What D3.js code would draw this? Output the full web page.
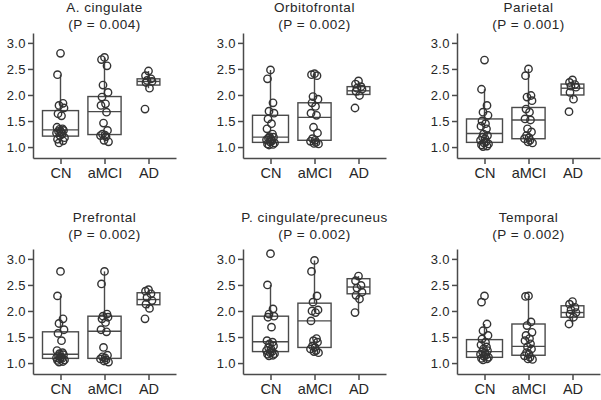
<!DOCTYPE html>
<html><head><meta charset="utf-8">
<script src="https://cdn.jsdelivr.net/npm/d3@7"></script>
<style>body{margin:0;background:#fff}svg{display:block}</style>
</head><body><svg id="c" width="601" height="400"></svg>
<script>
const categories = ["CN", "aMCI", "AD"];
const regions = ["A. cingulate", "Orbitofrontal", "Parietal", "Prefrontal", "P. cingulate/precuneus", "Temporal"];
const pLabels = ["(P = 0.004)", "(P = 0.002)", "(P = 0.001)", "(P = 0.002)", "(P = 0.002)", "(P = 0.002)"];
const yTicks = [1.0, 1.5, 2.0, 2.5, 3.0];

// individual values per region
const cnValues = [
  [2.80, 2.39, 1.84, 1.80, 1.75, 1.64, 1.60, 1.38, 1.35, 1.34, 1.32, 1.30, 1.29, 1.27, 1.25, 1.22, 1.18, 1.15, 1.12, 1.08],
  [2.48, 2.31, 1.85, 1.69, 1.65, 1.54, 1.45, 1.35, 1.25, 1.20, 1.19, 1.17, 1.15, 1.14, 1.12, 1.10, 1.08, 1.06, 1.05, 1.04],
  [2.67, 2.11, 1.80, 1.67, 1.61, 1.50, 1.45, 1.40, 1.35, 1.25, 1.22, 1.19, 1.16, 1.13, 1.10, 1.08, 1.06, 1.04, 1.02, 1.01],
  [2.76, 2.29, 1.85, 1.76, 1.64, 1.57, 1.43, 1.24, 1.20, 1.18, 1.16, 1.14, 1.12, 1.10, 1.09, 1.08, 1.06, 1.05, 1.03, 1.02],
  [3.10, 2.50, 2.04, 1.94, 1.90, 1.88, 1.69, 1.43, 1.40, 1.37, 1.33, 1.30, 1.27, 1.24, 1.22, 1.20, 1.18, 1.17, 1.15, 1.14],
  [2.29, 2.17, 1.75, 1.62, 1.53, 1.46, 1.40, 1.35, 1.31, 1.27, 1.24, 1.22, 1.20, 1.17, 1.15, 1.13, 1.11, 1.09, 1.08, 1.06]
];
const amciValues = [
  [2.72, 2.68, 2.56, 2.19, 2.05, 1.96, 1.83, 1.80, 1.67, 1.46, 1.32, 1.25, 1.23, 1.22, 1.20, 1.13, 1.10],
  [2.41, 2.39, 2.37, 1.97, 1.92, 1.85, 1.78, 1.65, 1.61, 1.38, 1.27, 1.16, 1.13, 1.11, 1.09, 1.07, 1.06],
  [2.50, 2.37, 1.99, 1.96, 1.89, 1.73, 1.67, 1.54, 1.52, 1.35, 1.29, 1.22, 1.18, 1.16, 1.13, 1.10, 1.08],
  [2.76, 2.52, 1.94, 1.90, 1.88, 1.85, 1.78, 1.64, 1.60, 1.30, 1.15, 1.12, 1.10, 1.08, 1.06, 1.04, 1.02],
  [2.97, 2.76, 2.29, 2.17, 2.02, 2.00, 1.97, 1.81, 1.47, 1.43, 1.40, 1.33, 1.30, 1.27, 1.24, 1.22, 1.20],
  [2.29, 2.28, 1.79, 1.72, 1.59, 1.53, 1.47, 1.43, 1.37, 1.31, 1.27, 1.20, 1.17, 1.14, 1.11, 1.08, 1.07]
];
const adValues = [
  [2.46, 2.37, 2.31, 2.28, 2.26, 2.24, 2.13, 1.73],
  [2.27, 2.21, 2.16, 2.13, 2.11, 2.07, 1.99, 1.75],
  [2.29, 2.24, 2.20, 2.17, 2.15, 2.05, 1.92, 1.68],
  [2.41, 2.38, 2.33, 2.26, 2.20, 2.13, 2.05, 1.85],
  [2.67, 2.58, 2.49, 2.44, 2.36, 2.30, 2.23, 1.97],
  [2.18, 2.13, 2.07, 2.02, 1.97, 1.94, 1.88, 1.75]
];
// box statistics: [lower whisker, Q1, median, Q3, upper whisker]
const cnBox = [
  [1.08, 1.21, 1.33, 1.70, 2.39],
  [1.04, 1.09, 1.19, 1.61, 2.48],
  [1.01, 1.09, 1.26, 1.54, 2.11],
  [1.02, 1.09, 1.17, 1.60, 2.29],
  [1.14, 1.22, 1.41, 1.90, 2.50],
  [1.06, 1.11, 1.22, 1.45, 1.75]
];
const amciBox = [
  [1.10, 1.24, 1.68, 1.97, 2.72],
  [1.06, 1.13, 1.57, 1.85, 2.41],
  [1.08, 1.16, 1.52, 1.76, 2.50],
  [1.02, 1.09, 1.61, 1.90, 2.76],
  [1.20, 1.30, 1.81, 2.15, 2.97],
  [1.07, 1.15, 1.32, 1.75, 2.29]
];
const adBox = [
  [2.13, 2.19, 2.26, 2.31, 2.46],
  [1.99, 2.01, 2.08, 2.16, 2.27],
  [1.92, 2.00, 2.13, 2.21, 2.29],
  [2.05, 2.12, 2.22, 2.35, 2.41],
  [1.97, 2.33, 2.46, 2.62, 2.67],
  [1.75, 1.88, 1.97, 2.10, 2.18]
];

const svg = d3.select("#c");
const FONT = "'Liberation Sans', Arial, sans-serif";
const TXT = "#262626";
const LINE = "#4a4a4a";
const colX = [33, 243, 457];
const rowTop = [33, 249];
const titleY = [[12, 29], [222, 239]];
const plotW = 143, plotH = 125;
const widthScale = d3.scaleSqrt().domain([0, 20]).range([0, 36]);
const jitter = [0, -3, 2.5, -1.5, 3.5, -2.5, 1, -3.5, 2, -1, 3, -2, 0.5, -4, 1.5, -0.5, 4, -3, 2.5, -1.5];

regions.forEach((name, k) => {
  const r = Math.floor(k / 3), c = k % 3;
  const x0 = colX[c], top = rowTop[r], bottom = top + plotH;
  const y = d3.scaleLinear().domain([0.79, 3.19]).range([bottom, top]);
  const x = d3.scalePoint().domain(categories).range([x0, x0 + plotW]).padding(0.625);
  const g = svg.append("g");

  // titles
  const cx = x("aMCI");
  g.append("text").attr("x", cx).attr("y", titleY[r][0]).attr("text-anchor", "middle")
    .attr("font-family", FONT).attr("font-size", 13.5).attr("letter-spacing", "0.5px").attr("fill", TXT).text(name);
  g.append("text").attr("x", cx).attr("y", titleY[r][1]).attr("text-anchor", "middle")
    .attr("font-family", FONT).attr("font-size", 13.5).attr("letter-spacing", "0.5px").attr("fill", TXT).text(pLabels[k]);

  // axes
  const ya = g.append("g").attr("transform", `translate(${x0},0)`)
    .call(d3.axisLeft(y).tickValues(yTicks).tickFormat(d3.format(".1f")).tickSize(5).tickSizeOuter(0).tickPadding(2));
  ya.selectAll("text").attr("font-family", FONT).attr("font-size", 13).attr("letter-spacing", "0.4px").attr("fill", TXT);
  const xa = g.append("g").attr("transform", `translate(0,${bottom})`)
    .call(d3.axisBottom(x).tickSize(6).tickSizeOuter(0).tickPadding(4));
  xa.selectAll("text").attr("font-family", FONT).attr("font-size", 14.5).attr("fill", TXT);
  [ya, xa].forEach(a => {
    a.selectAll("path,line").attr("stroke", LINE).attr("stroke-width", 1.5);
  });

  const groups = [
    {cat: "CN", vals: cnValues[k], box: cnBox[k]},
    {cat: "aMCI", vals: amciValues[k], box: amciBox[k]},
    {cat: "AD", vals: adValues[k], box: adBox[k]}
  ];
  groups.forEach(gr => {
    const xc = x(gr.cat);
    const w = widthScale(gr.vals.length);
    const [lo, q1, med, q3, hi] = gr.box;
    const bg = g.append("g").attr("stroke", LINE).attr("stroke-width", 1.4).attr("fill", "none");
    bg.append("line").attr("x1", xc).attr("x2", xc).attr("y1", y(q3)).attr("y2", y(hi));
    bg.append("line").attr("x1", xc).attr("x2", xc).attr("y1", y(q1)).attr("y2", y(lo));
    bg.append("rect").attr("x", xc - w / 2).attr("width", w).attr("y", y(q3)).attr("height", y(q1) - y(q3));
    bg.append("line").attr("x1", xc - w / 2).attr("x2", xc + w / 2).attr("y1", y(med)).attr("y2", y(med));
    g.append("g").selectAll("circle").data(gr.vals).join("circle")
      .attr("cx", (d, i) => xc + jitter[i % jitter.length])
      .attr("cy", d => y(d))
      .attr("r", 3.7)
      .attr("fill", "none")
      .attr("stroke", "#333")
      .attr("stroke-width", 1.4);
  });
});
</script></body></html>
